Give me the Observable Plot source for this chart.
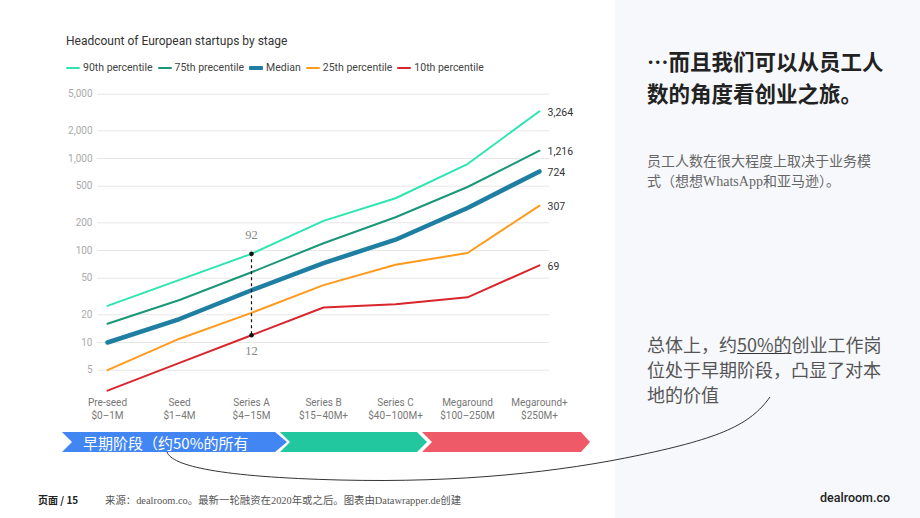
<!DOCTYPE html>
<html>
<head>
<meta charset="utf-8">
<script src="https://cdn.jsdelivr.net/npm/d3@7"></script>
<script src="https://cdn.jsdelivr.net/npm/@observablehq/plot@0.6"></script>
<style>
  body { margin: 0; width: 920px; height: 518px; position: relative; overflow: hidden; background: #fff; font-family: Roboto, "Noto Sans CJK SC", sans-serif; }
  #side { position: absolute; left: 615px; top: 0; width: 305px; height: 518px; background: #f7f8fc; }
  #title { position: absolute; left: 66px; top: 34px; font-size: 12px; color: #333; white-space: nowrap; }
  #legend { position: absolute; left: 66px; top: 61px; display: flex; align-items: center; font-size: 10.5px; color: #444; white-space: nowrap; }
  #legend .item { display: flex; align-items: center; margin-right: 5px; }
  #legend .sw { width: 14px; margin-right: 3px; border-radius: 1px; }
  #chart { position: absolute; left: 0; top: 80px; }
  #deco { position: absolute; left: 0; top: 0; pointer-events: none; }
  #stageText { position: absolute; left: 83px; top: 434px; font-family: "Noto Sans CJK SC", sans-serif; font-size: 15px; line-height: 18px; color: #fff; white-space: nowrap; }
  #headline { position: absolute; left: 647px; top: 45px; font-family: "Noto Sans CJK SC", sans-serif; font-weight: 700; font-size: 21.5px; line-height: 32px; color: #222; white-space: nowrap; }
  #sub { position: absolute; left: 647px; top: 152px; font-family: "Liberation Serif", "Noto Sans CJK SC", serif; font-size: 14px; line-height: 20px; color: #666; white-space: nowrap; }
  #note { position: absolute; left: 647px; top: 332px; font-family: "Noto Sans CJK SC", sans-serif; font-size: 18px; line-height: 25px; color: #555; white-space: nowrap; }
  #note u { text-decoration-thickness: 1px; text-underline-offset: 1px; text-decoration-color: #333; }
  #page { position: absolute; left: 38px; top: 492px; font-family: "Noto Sans CJK SC", sans-serif; font-weight: 700; font-size: 10px; color: #222; }
  #source { position: absolute; left: 105px; top: 492px; font-family: "Liberation Serif", "Noto Sans CJK SC", serif; font-size: 10.4px; color: #555; white-space: nowrap; }
  #brand { position: absolute; left: 820px; top: 490px; font-family: Roboto, sans-serif; font-weight: 500; font-size: 12.5px; color: #222; }
</style>
</head>
<body>
<div id="side"></div>
<div id="title">Headcount of European startups by stage</div>
<div id="legend"></div>
<div id="chart"></div>
<svg id="deco" width="920" height="518">
  <polygon points="62,432 275,432 287,442 275,452 62,452 72,442" fill="#4286f4"/>
  <polygon points="280,432 417,432 427,442 417,452 280,452 290,442" fill="#22c79f"/>
  <polygon points="422,432 581,432 590,442 581,452 422,452 432,442" fill="#ee5a67"/>
  <path d="M167,452 C172,466 220,477 340,480 S 560,472 640,455 S 750,425 770,397" fill="none" stroke="#333" stroke-width="1"/>
</svg>
<div id="stageText">早期阶段（约50%的所有</div>
<div id="headline">…而且我们可以从员工人<br>数的角度看创业之旅。</div>
<div id="sub">员工人数在很大程度上取决于业务模<br>式（想想WhatsApp和亚马逊）。</div>
<div id="note">总体上，约<u>50%的</u>创业工作岗<br>位处于早期阶段，凸显了对本<br>地的价值</div>
<div id="page">页面 / 15</div>
<div id="source">来源：dealroom.co。最新一轮融资在2020年或之后。图表由Datawrapper.de创建</div>
<div id="brand">dealroom.co</div>

<script>
// Funding stages and their round sizes
const stages = ["Pre-seed", "Seed", "Series A", "Series B", "Series C", "Megaround", "Megaround+"];
const stageRanges = ["$0–1M", "$1–4M", "$4–15M", "$15–40M+", "$40–100M+", "$100–250M", "$250M+"];

// Headcount per stage for each percentile
const seriesNames = ["90th percentile", "75th precentile", "Median", "25th percentile", "10th percentile"];
const p90 = [25, 48, 92, 210, 370, 870, 3264];
const p75 = [16, 29, 58, 120, 230, 490, 1216];
const median = [10, 18, 37, 73, 131, 290, 724];
const p25 = [5, 11, 21, 42, 70, 94, 307];
const p10 = [3, 6, 12, 24, 26, 31, 69];

// Log-axis tick values
const yTicks = [5, 10, 20, 50, 100, 200, 500, 1000, 2000, 5000];

// Styling
const seriesColors = ["#2ee5b2", "#1a9679", "#1f7fa3", "#ff9a1c", "#d8262c"];
const seriesValues = [p90, p75, median, p25, p10];

const rows = seriesNames.flatMap((name, s) =>
  stages.map((stage, i) => ({series: name, stage, value: seriesValues[s][i]}))
);

// Spread between top and bottom percentile at Series A
const spreadIdx = stages.indexOf("Series A");
const spread = [
  {stage: stages[spreadIdx], value: p90[spreadIdx], pos: "top"},
  {stage: stages[spreadIdx], value: p10[spreadIdx], pos: "bottom"}
];

// Legend
const legend = document.getElementById("legend");
seriesNames.forEach((name, i) => {
  const item = document.createElement("div");
  item.className = "item";
  const sw = document.createElement("div");
  sw.className = "sw";
  sw.style.background = seriesColors[i];
  sw.style.height = name === "Median" ? "4px" : "2px";
  item.appendChild(sw);
  item.appendChild(document.createTextNode(name));
  legend.appendChild(item);
});

// Vertical placement: one decade spans 92px, value 10 sits at 262px
const yPx = v => 262 - 92 * (Math.log10(v) - 1);
const fmt = d3.format(",");

const chart = Plot.plot({
  width: 615,
  height: 345,
  marginLeft: 97,
  marginRight: 66,
  marginTop: 0,
  marginBottom: 29,
  style: {fontFamily: "Roboto, sans-serif", background: "transparent", overflow: "visible"},
  x: {type: "point", domain: stages, range: [105, 541], padding: 0, axis: null},
  y: {type: "log", domain: [2, 6000], range: [yPx(2), yPx(6000)], axis: null},
  color: {domain: seriesNames, range: seriesColors},
  marks: [
    Plot.ruleY(yTicks, {stroke: "#e7e7e7", strokeWidth: 1}),
    Plot.text(yTicks, {
      y: d => d,
      text: d => fmt(d),
      frameAnchor: "left",
      dx: -5,
      textAnchor: "end",
      fontSize: 10,
      fill: "#aaa"
    }),
    Plot.text(stages, {
      x: d => d,
      text: (d, i) => d + "\n" + stageRanges[i],
      frameAnchor: "bottom",
      lineAnchor: "top",
      lineHeight: 1.3,
      fontSize: 10,
      fill: "#777"
    }),
    Plot.line(rows, {filter: d => d.series !== "Median", x: "stage", y: "value", z: "series", stroke: "series", strokeWidth: 2}),
    Plot.line(rows, {filter: d => d.series === "Median", x: "stage", y: "value", z: "series", stroke: "series", strokeWidth: 4.5}),
    Plot.text(rows, Plot.selectLast({
      x: "stage", y: "value", z: "series",
      text: d => fmt(d.value),
      dx: 8, dy: 1, textAnchor: "start", fontSize: 10.5, fill: "#333"
    })),
    Plot.ruleX([spread[0]], {x: "stage", y1: spread[0].value, y2: spread[1].value, stroke: "#111", strokeWidth: 1.2, strokeDasharray: "3,3"}),
    Plot.dot(spread, {x: "stage", y: "value", r: 2.3, fill: "#111"}),
    Plot.text(spread, {
      filter: d => d.pos === "top",
      x: "stage", y: "value",
      text: d => fmt(d.value),
      dy: -19,
      fontFamily: "Liberation Serif, serif",
      fontSize: 12.5,
      fill: "#888"
    }),
    Plot.text(spread, {
      filter: d => d.pos === "bottom",
      x: "stage", y: "value",
      text: d => fmt(d.value),
      dy: 16,
      fontFamily: "Liberation Serif, serif",
      fontSize: 12.5,
      fill: "#888"
    })
  ]
});
document.getElementById("chart").appendChild(chart);
</script>
</body>
</html>
